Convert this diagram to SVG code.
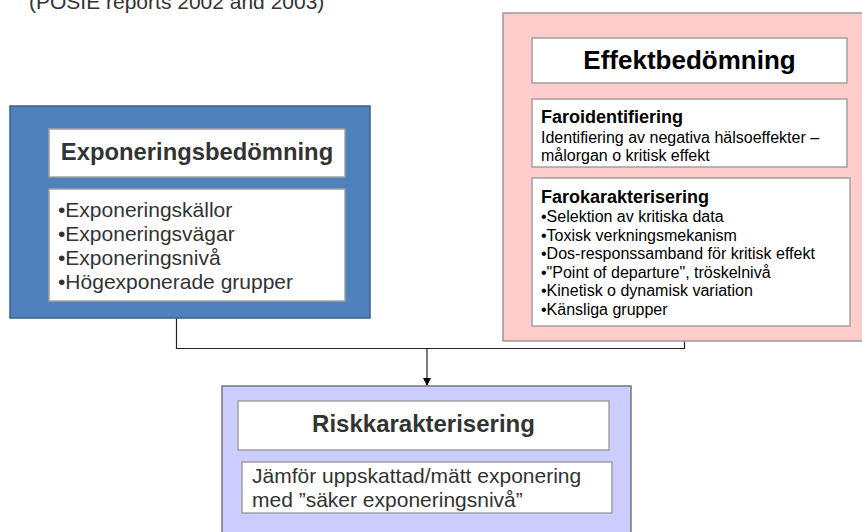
<svg xmlns="http://www.w3.org/2000/svg" width="862" height="532" viewBox="0 0 862 532">
<defs>
<style>
text{font-family:"Liberation Sans",Arial,sans-serif;}
.inner{fill:#fff;stroke:#a0a0a0;stroke-width:1.5;}
.hd{font-weight:bold;fill:#333;}
.g{fill:#333;}
.k{fill:#000;}
.conn{fill:none;stroke:#222;stroke-width:1.2;}
</style>
<marker id="arr" viewBox="0 0 10 10" refX="10" refY="5" markerWidth="8" markerHeight="8" markerUnits="userSpaceOnUse" orient="auto">
<path d="M0,0 L10,5 L0,10 Z" fill="#000"/>
</marker>
</defs>
<rect width="862" height="532" fill="#fff"/>
<text x="29" y="9" class="g" font-size="21">(POSIE reports 2002 and 2003)</text>

<g id="connectors">
<path class="conn" d="M176.5,318 V348.5 H684.5 V341"/>
<path class="conn" d="M427,348.5 V386" marker-end="url(#arr)"/>
</g>

<g id="exponering">
<rect x="10" y="106" width="360" height="212" fill="#4F81BD" stroke="#3a5f8c" stroke-width="1.5"/>
<rect class="inner" x="49" y="129" width="296" height="48"/>
<text x="197" y="160" class="hd" font-size="23.8" text-anchor="middle">Exponeringsbedömning</text>
<rect class="inner" x="49" y="189" width="296" height="112"/>
<text class="g" font-size="21">
<tspan x="58" y="217">•Exponeringskällor</tspan>
<tspan x="58" y="241">•Exponeringsvägar</tspan>
<tspan x="58" y="265">•Exponeringsnivå</tspan>
<tspan x="58" y="289">•Högexponerade grupper</tspan>
</text>
</g>

<g id="effekt">
<rect x="503" y="13" width="380" height="328" fill="#FFCCCC" stroke="#999" stroke-width="1.5"/>
<rect class="inner" x="532" y="38" width="315" height="45"/>
<text x="689.5" y="69" class="k" font-size="26" font-weight="bold" text-anchor="middle">Effektbedömning</text>
<rect class="inner" x="532" y="99" width="315" height="68"/>
<text x="541" y="123" class="k" font-size="18" font-weight="bold">Faroidentifiering</text>
<text class="k" font-size="16">
<tspan x="541" y="143">Identifiering av negativa hälsoeffekter –</tspan>
<tspan x="541" y="161">målorgan o kritisk effekt</tspan>
</text>
<rect class="inner" x="532" y="178" width="318" height="148"/>
<text x="541" y="203" class="k" font-size="18" font-weight="bold">Farokarakterisering</text>
<text class="k" font-size="16">
<tspan x="541" y="222">•Selektion av kritiska data</tspan>
<tspan x="541" y="240.5">•Toxisk verkningsmekanism</tspan>
<tspan x="541" y="259">•Dos-responssamband för kritisk effekt</tspan>
<tspan x="541" y="277.5">•"Point of departure", tröskelnivå</tspan>
<tspan x="541" y="296">•Kinetisk o dynamisk variation</tspan>
<tspan x="541" y="314.5">•Känsliga grupper</tspan>
</text>
</g>

<g id="risk">
<rect x="222" y="386" width="409" height="160" fill="#CCCCFF" stroke="#777" stroke-width="1.5"/>
<rect class="inner" x="238" y="401" width="371" height="49"/>
<text x="423.5" y="432" class="hd" font-size="24" text-anchor="middle">Riskkarakterisering</text>
<rect class="inner" x="242" y="462" width="370" height="51"/>
<text class="g" font-size="21">
<tspan x="252" y="483">Jämför uppskattad/mätt exponering</tspan>
<tspan x="252" y="507">med ”säker exponeringsnivå”</tspan>
</text>
</g>
</svg>
